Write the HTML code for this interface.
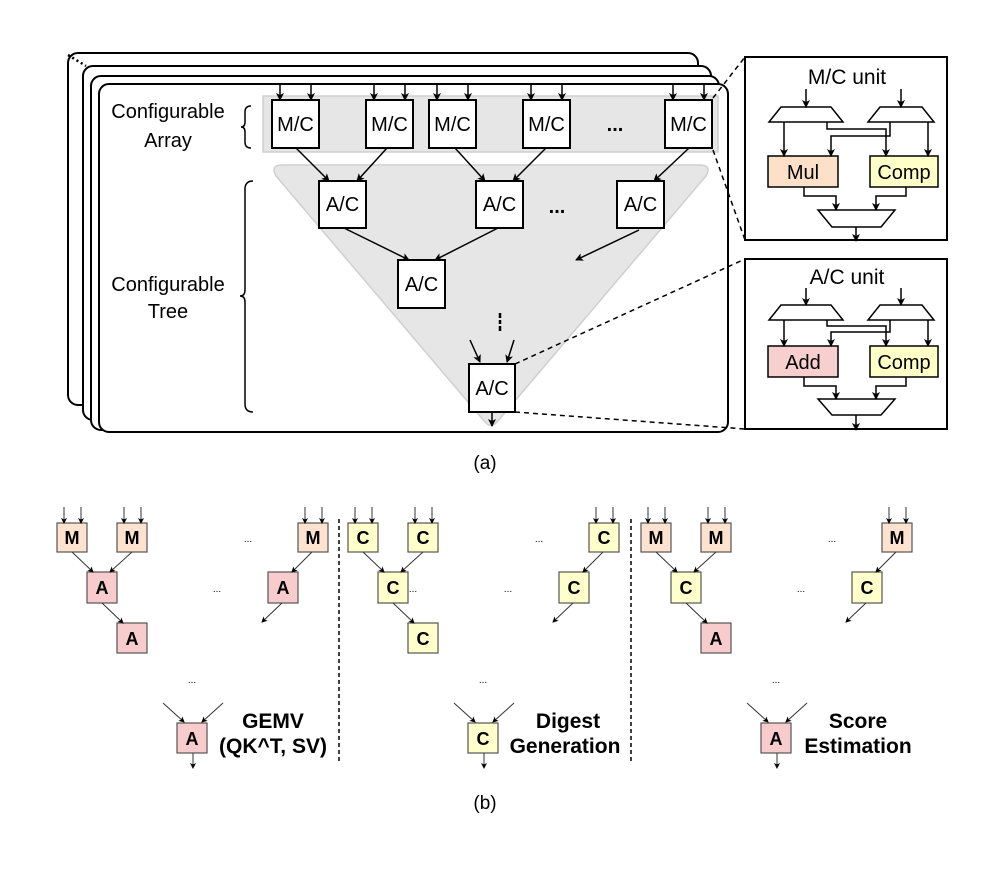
<!DOCTYPE html>
<html><head><meta charset="utf-8"><style>
html,body{margin:0;padding:0;background:#fff}
svg{display:block}
text{font-family:"Liberation Sans",Arial,sans-serif}
</style></head><body>
<svg width="997" height="881" viewBox="0 0 997 881" xmlns="http://www.w3.org/2000/svg">
<defs>
<marker id="ah" markerWidth="8" markerHeight="8" refX="7" refY="4" orient="auto" markerUnits="userSpaceOnUse"><path d="M0,0 L8,4 L0,8 L2,4 Z" fill="#000"/></marker>
<marker id="as" markerWidth="6" markerHeight="6" refX="5" refY="3" orient="auto" markerUnits="userSpaceOnUse"><path d="M0,0 L6,3 L0,6 L1.5,3 Z" fill="#000"/></marker>
</defs>

<rect x="68" y="53" width="630" height="352" rx="10" fill="#fff" stroke="#000" stroke-width="2"/>
<rect x="83" y="66" width="628" height="354" rx="10" fill="#fff" stroke="#000" stroke-width="2"/>
<rect x="91" y="76" width="628" height="354" rx="10" fill="#fff" stroke="#000" stroke-width="2"/>
<rect x="99" y="84" width="629" height="348" rx="10" fill="#fff" stroke="#000" stroke-width="2"/>
<line x1="68" y1="55" x2="86" y2="66" stroke="#000" stroke-width="2.5" stroke-dasharray="2,3"/>

<rect x="263" y="96" width="455" height="56" fill="#e6e6e6" stroke="#cfcfcf" stroke-width="1.5"/>
<path d="M282,165 L700,165 Q712,165 706,176 L497,422 Q491,429 485,422 L276,176 Q270,165 282,165 Z" fill="#e6e6e6" stroke="#cfcfcf" stroke-width="1.5"/>

<g font-size="20" text-anchor="middle">
<text x="168" y="118">Configurable</text>
<text x="168" y="147">Array</text>
<text x="168" y="291">Configurable</text>
<text x="168" y="318">Tree</text>
</g>
<path d="M251,106 Q245,106 245,112 L245,122 Q245,127 241,127 Q245,127 245,132 L245,142 Q245,148 251,148" fill="none" stroke="#000" stroke-width="1.5"/>
<path d="M253,181 Q245,181 245,189 L245,290 Q245,296 240,296 Q245,296 245,302 L245,404 Q245,412 253,412" fill="none" stroke="#000" stroke-width="1.5"/>

<g fill="#fff" stroke="#000" stroke-width="2">
<rect x="272" y="100" width="47" height="48"/>
<rect x="366" y="100" width="47" height="48"/>
<rect x="429" y="100" width="47" height="48"/>
<rect x="523" y="100" width="47" height="48"/>
<rect x="665" y="100" width="47" height="48"/>
<rect x="319" y="181" width="47" height="47"/>
<rect x="476" y="181" width="47" height="47"/>
<rect x="617" y="181" width="47" height="47"/>
<rect x="398" y="260" width="47" height="48"/>
<rect x="469" y="364" width="46" height="48"/>
</g>
<g font-size="20" text-anchor="middle">
<text x="295.5" y="131">M/C</text><text x="389.5" y="131">M/C</text><text x="452.5" y="131">M/C</text><text x="546.5" y="131">M/C</text><text x="688.5" y="131">M/C</text>
<text x="342.5" y="211">A/C</text><text x="499.5" y="211">A/C</text><text x="640.5" y="211">A/C</text>
<text x="421.5" y="291">A/C</text><text x="492" y="395">A/C</text>
<text x="615" y="131" font-weight="bold">...</text>
<text x="557" y="213" font-weight="bold">...</text>
</g>
<line x1="500" y1="313" x2="500" y2="318" stroke="#000" stroke-width="2.5"/>
<line x1="500" y1="320" x2="500" y2="324" stroke="#000" stroke-width="2.5"/>
<line x1="500" y1="326" x2="500" y2="331" stroke="#000" stroke-width="2.5"/>

<g stroke="#000" stroke-width="1.5" fill="none" marker-end="url(#ah)">
<line x1="280" y1="84" x2="280" y2="100"/><line x1="311" y1="84" x2="311" y2="100"/>
<line x1="374" y1="84" x2="374" y2="100"/><line x1="405" y1="84" x2="405" y2="100"/>
<line x1="437" y1="84" x2="437" y2="100"/><line x1="468" y1="84" x2="468" y2="100"/>
<line x1="531" y1="84" x2="531" y2="100"/><line x1="562" y1="84" x2="562" y2="100"/>
<line x1="673" y1="84" x2="673" y2="100"/><line x1="704" y1="84" x2="704" y2="100"/>
<line x1="296" y1="148" x2="329" y2="181"/><line x1="387" y1="148" x2="357" y2="181"/>
<line x1="455" y1="148" x2="485" y2="181"/><line x1="546" y1="148" x2="513" y2="181"/>
<line x1="689" y1="148" x2="654" y2="181"/>
<line x1="344" y1="228" x2="409" y2="260"/><line x1="498" y1="228" x2="435" y2="260"/>
<line x1="639" y1="230" x2="576" y2="260"/>
<line x1="470" y1="340" x2="480" y2="362"/><line x1="514" y1="340" x2="507" y2="362"/>
<line x1="492" y1="412" x2="492" y2="426"/>
</g>

<g stroke="#000" stroke-width="1.5" stroke-dasharray="5,4">
<line x1="713" y1="98" x2="745" y2="57"/>
<line x1="713" y1="150" x2="745" y2="240"/>
<line x1="515" y1="364" x2="745" y2="259"/>
<line x1="515" y1="412" x2="745" y2="429"/>
</g>

<g>
<rect x="745" y="57" width="202" height="183" fill="#fff" stroke="#000" stroke-width="2"/>
<text x="847" y="84" font-size="21" text-anchor="middle">M/C unit</text>
<path d="M781,107 L831,107 L843,122 L769,122 Z" fill="#fff" stroke="#000" stroke-width="1.5"/>
<path d="M880,107 L922,107 L934,122 L868,122 Z" fill="#fff" stroke="#000" stroke-width="1.5"/>
<rect x="768" y="156" width="70" height="31" fill="#fde0c8" stroke="#000" stroke-width="1.5"/>
<rect x="870" y="156" width="68" height="31" fill="#ffffc8" stroke="#000" stroke-width="1.5"/>
<text x="803" y="179" font-size="20" text-anchor="middle">Mul</text>
<text x="904" y="179" font-size="20" text-anchor="middle">Comp</text>
<path d="M818,210 L895,210 L881,227 L832,227 Z" fill="#fff" stroke="#000" stroke-width="1.5"/>
<g stroke="#000" stroke-width="1.5" fill="none">
<path d="M806,89 L806,107" marker-end="url(#ah)"/>
<path d="M901,89 L901,107" marker-end="url(#ah)"/>
<path d="M784,122 L784,156" marker-end="url(#ah)"/>
<path d="M827,122 L827,129 L886,129 L886,156" marker-end="url(#ah)"/>
<path d="M890,122 L890,136 L831,136 L831,156" marker-end="url(#ah)"/>
<path d="M928,122 L928,156" marker-end="url(#ah)"/>
<path d="M804,187 L804,196 L836,196 L836,210" marker-end="url(#ah)"/>
<path d="M906,187 L906,196 L876,196 L876,210" marker-end="url(#ah)"/>
<path d="M856,227 L856,241" marker-end="url(#ah)"/>
</g>
</g>
<g transform="translate(0,202)">
<rect x="745" y="57" width="202" height="170" fill="#fff" stroke="#000" stroke-width="2"/>
<text x="847" y="82" font-size="21" text-anchor="middle">A/C unit</text>
<path d="M781,103 L831,103 L843,118 L769,118 Z" fill="#fff" stroke="#000" stroke-width="1.5"/>
<path d="M880,103 L922,103 L934,118 L868,118 Z" fill="#fff" stroke="#000" stroke-width="1.5"/>
<rect x="768" y="144" width="70" height="31" fill="#f8cfcf" stroke="#000" stroke-width="1.5"/>
<rect x="870" y="144" width="68" height="31" fill="#ffffc8" stroke="#000" stroke-width="1.5"/>
<text x="803" y="167" font-size="20" text-anchor="middle">Add</text>
<text x="904" y="167" font-size="20" text-anchor="middle">Comp</text>
<path d="M818,197 L895,197 L881,213 L832,213 Z" fill="#fff" stroke="#000" stroke-width="1.5"/>
<g stroke="#000" stroke-width="1.5" fill="none">
<path d="M806,86 L806,103" marker-end="url(#ah)"/>
<path d="M901,86 L901,103" marker-end="url(#ah)"/>
<path d="M784,118 L784,144" marker-end="url(#ah)"/>
<path d="M827,118 L827,124 L886,124 L886,144" marker-end="url(#ah)"/>
<path d="M890,118 L890,130 L831,130 L831,144" marker-end="url(#ah)"/>
<path d="M928,118 L928,144" marker-end="url(#ah)"/>
<path d="M804,175 L804,184 L836,184 L836,197" marker-end="url(#ah)"/>
<path d="M906,175 L906,184 L876,184 L876,197" marker-end="url(#ah)"/>
<path d="M856,213 L856,228" marker-end="url(#ah)"/>
</g>
</g>

<text x="485" y="469" font-size="19" text-anchor="middle">(a)</text>
<text x="485" y="809" font-size="19" text-anchor="middle">(b)</text>

<g stroke="#000" stroke-width="1.5" stroke-dasharray="4,3">
<line x1="339" y1="519" x2="339" y2="762"/>
<line x1="631" y1="519" x2="631" y2="762"/>
</g>

<g>
<g stroke="#555" stroke-width="1.2">
<rect x="57" y="523" width="30" height="29" fill="#fde3cf"/>
<rect x="117" y="523" width="30" height="29" fill="#fde3cf"/>
<rect x="298" y="523" width="30" height="29" fill="#fde3cf"/>
<rect x="87" y="572" width="30" height="31" fill="#f8cccc"/>
<rect x="268" y="572" width="30" height="31" fill="#f8cccc"/>
<rect x="117" y="623" width="30" height="30" fill="#f8cccc"/>
<rect x="177" y="723" width="30" height="30" fill="#f8cccc"/>
</g>
<g font-size="18" font-weight="bold" text-anchor="middle">
<text x="72" y="544">M</text><text x="132" y="544">M</text><text x="313" y="544">M</text>
<text x="102" y="594">A</text><text x="283" y="594">A</text><text x="132" y="645">A</text><text x="192" y="745">A</text>
</g>
<g font-size="10" text-anchor="middle"><text x="248" y="542">...</text><text x="217" y="592">...</text><text x="192" y="683">...</text></g>
<g stroke="#333" stroke-width="1" fill="none" marker-end="url(#as)">
<line x1="64" y1="507" x2="64" y2="523"/><line x1="81" y1="507" x2="81" y2="523"/>
<line x1="124" y1="507" x2="124" y2="523"/><line x1="141" y1="507" x2="141" y2="523"/>
<line x1="305" y1="507" x2="305" y2="523"/><line x1="322" y1="507" x2="322" y2="523"/>
<line x1="72" y1="552" x2="93" y2="572"/><line x1="132" y1="552" x2="110" y2="572"/>
<line x1="312" y1="552" x2="292" y2="572"/>
<line x1="102" y1="603" x2="123" y2="623"/>
<line x1="282" y1="603" x2="262" y2="622"/>
<line x1="163" y1="703" x2="184" y2="722"/><line x1="223" y1="703" x2="202" y2="722"/>
<line x1="193" y1="753" x2="193" y2="768"/>
</g>
<g font-size="21" font-weight="bold" text-anchor="middle">
<text x="273" y="728">GEMV</text><text x="273" y="753">(QK^T, SV)</text>
</g>
</g>

<g transform="translate(291,0)">
<g stroke="#555" stroke-width="1.2" fill="#ffffcc">
<rect x="57" y="523" width="30" height="29"/>
<rect x="117" y="523" width="30" height="29"/>
<rect x="298" y="523" width="30" height="29"/>
<rect x="87" y="572" width="30" height="31"/>
<rect x="268" y="572" width="30" height="31"/>
<rect x="117" y="623" width="30" height="30"/>
<rect x="177" y="723" width="30" height="30"/>
</g>
<g font-size="18" font-weight="bold" text-anchor="middle">
<text x="72" y="544">C</text><text x="132" y="544">C</text><text x="313" y="544">C</text>
<text x="102" y="594">C</text><text x="283" y="594">C</text><text x="132" y="645">C</text><text x="192" y="745">C</text>
</g>
<g font-size="10" text-anchor="middle"><text x="248" y="542">...</text><text x="217" y="592">...</text><text x="122" y="592">...</text><text x="192" y="683">...</text></g>
<g stroke="#333" stroke-width="1" fill="none" marker-end="url(#as)">
<line x1="64" y1="507" x2="64" y2="523"/><line x1="81" y1="507" x2="81" y2="523"/>
<line x1="124" y1="507" x2="124" y2="523"/><line x1="141" y1="507" x2="141" y2="523"/>
<line x1="305" y1="507" x2="305" y2="523"/><line x1="322" y1="507" x2="322" y2="523"/>
<line x1="72" y1="552" x2="93" y2="572"/><line x1="132" y1="552" x2="110" y2="572"/>
<line x1="312" y1="552" x2="292" y2="572"/>
<line x1="102" y1="603" x2="123" y2="623"/>
<line x1="282" y1="603" x2="262" y2="622"/>
<line x1="163" y1="703" x2="184" y2="722"/><line x1="223" y1="703" x2="202" y2="722"/>
<line x1="193" y1="753" x2="193" y2="768"/>
</g>
<g font-size="21" font-weight="bold" text-anchor="middle">
<text x="277" y="728">Digest</text><text x="274" y="753">Generation</text>
</g>
</g>

<g transform="translate(584,0)">
<g stroke="#555" stroke-width="1.2">
<rect x="57" y="523" width="30" height="29" fill="#fde3cf"/>
<rect x="117" y="523" width="30" height="29" fill="#fde3cf"/>
<rect x="298" y="523" width="30" height="29" fill="#fde3cf"/>
<rect x="87" y="572" width="30" height="31" fill="#ffffcc"/>
<rect x="268" y="572" width="30" height="31" fill="#ffffcc"/>
<rect x="117" y="623" width="30" height="30" fill="#f8cccc"/>
<rect x="177" y="723" width="30" height="30" fill="#f8cccc"/>
</g>
<g font-size="18" font-weight="bold" text-anchor="middle">
<text x="72" y="544">M</text><text x="132" y="544">M</text><text x="313" y="544">M</text>
<text x="102" y="594">C</text><text x="283" y="594">C</text><text x="132" y="645">A</text><text x="192" y="745">A</text>
</g>
<g font-size="10" text-anchor="middle"><text x="248" y="542">...</text><text x="217" y="592">...</text><text x="192" y="683">...</text></g>
<g stroke="#333" stroke-width="1" fill="none" marker-end="url(#as)">
<line x1="64" y1="507" x2="64" y2="523"/><line x1="81" y1="507" x2="81" y2="523"/>
<line x1="124" y1="507" x2="124" y2="523"/><line x1="141" y1="507" x2="141" y2="523"/>
<line x1="305" y1="507" x2="305" y2="523"/><line x1="322" y1="507" x2="322" y2="523"/>
<line x1="72" y1="552" x2="93" y2="572"/><line x1="132" y1="552" x2="110" y2="572"/>
<line x1="312" y1="552" x2="292" y2="572"/>
<line x1="102" y1="603" x2="123" y2="623"/>
<line x1="282" y1="603" x2="262" y2="622"/>
<line x1="163" y1="703" x2="184" y2="722"/><line x1="223" y1="703" x2="202" y2="722"/>
<line x1="193" y1="753" x2="193" y2="768"/>
</g>
<g font-size="21" font-weight="bold" text-anchor="middle">
<text x="274" y="728">Score</text><text x="274" y="753">Estimation</text>
</g>
</g>
</svg>
</body></html>
